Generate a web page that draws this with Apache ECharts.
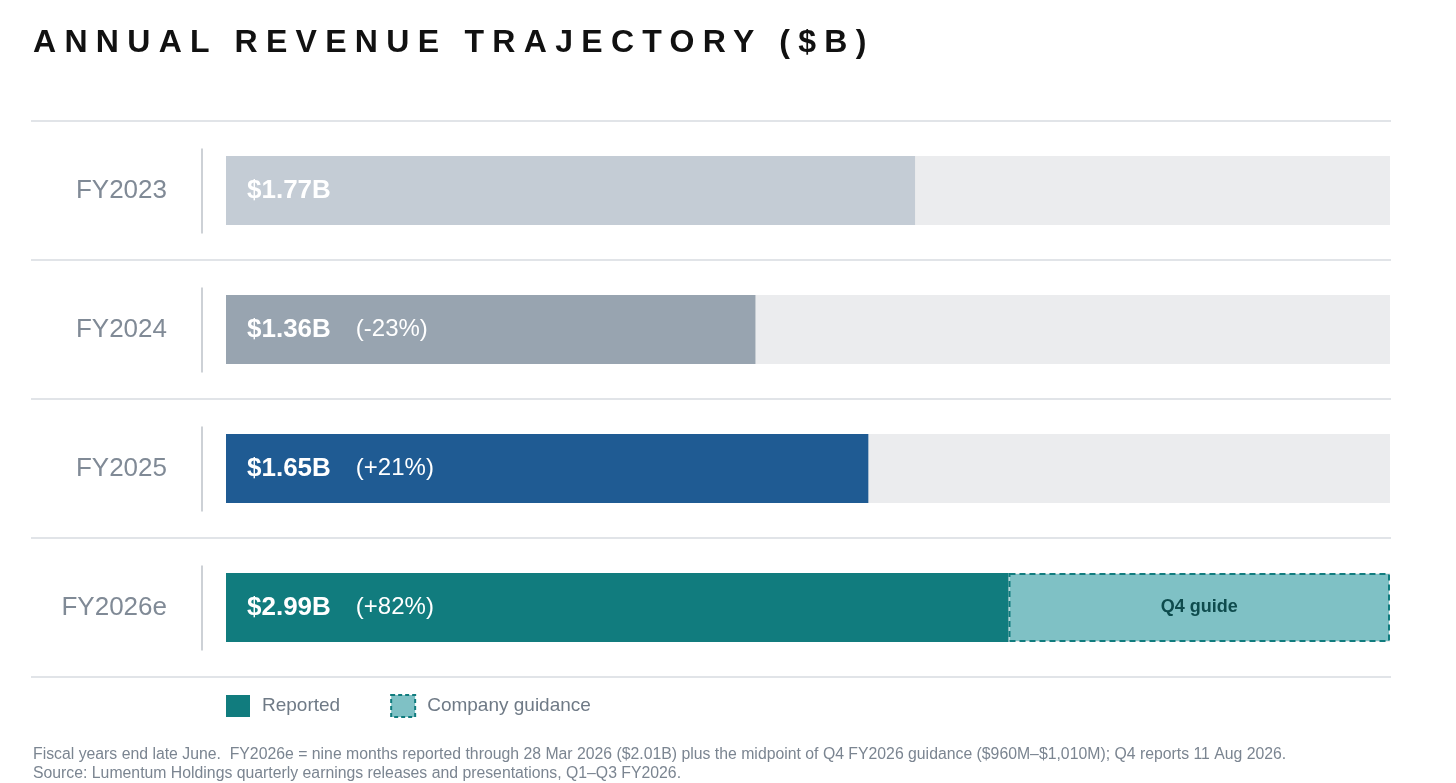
<!DOCTYPE html>
<html>
<head>
<meta charset="utf-8">
<script src="https://cdn.jsdelivr.net/npm/echarts@6/dist/echarts.min.js"></script>
<style>
  html, body { margin: 0; padding: 0; background: #fff; }
  #wrap { position: relative; width: 1456px; height: 783px; }
  #main { position: absolute; left: 0; top: 0; width: 1456px; height: 783px; }
  h1 {
    position: absolute; left: 33px; top: 25px; margin: 0; z-index: 2;
    font: bold 32px 'Liberation Sans', Arial, sans-serif; line-height: 32px;
    letter-spacing: 8.3px; color: #111; white-space: nowrap;
  }
</style>
</head>
<body>
<div id="wrap">
  <h1>ANNUAL REVENUE TRAJECTORY ($B)</h1>
  <div id="main"></div>
</div>
<script>
  // values in $B
  var categories = ['FY2023', 'FY2024', 'FY2025', 'FY2026e'];
  var reported = [1.77, 1.36, 1.65, 2.01];
  var guidance = [null, null, null, 0.98];
  var totals = [1.77, 1.36, 1.65, 2.99];
  var growth = ['', '-23%', '+21%', '+82%'];
  var barColors = ['#c4ccd5', '#98a4b0', '#1f5b93', '#117c7e'];
  var xMax = 2.99;
  var notes = [
    'Fiscal years end late June.  FY2026e = nine months reported through 28 Mar 2026 ($2.01B) plus the midpoint of Q4 FY2026 guidance ($960M\u2013$1,010M); Q4 reports 11 Aug 2026.',
    'Source: Lumentum Holdings quarterly earnings releases and presentations, Q1\u2013Q3 FY2026.'
  ];

  var font = "'Liberation Sans', Arial, sans-serif";
  var chart = echarts.init(document.getElementById('main'));

  var track = categories.map(function () { return xMax; });

  chart.setOption({
    animation: false,
    textStyle: { fontFamily: font },
    grid: [
      { left: 226, right: 66, top: 121, bottom: 106 },
      { left: 31, right: 65, top: 121, bottom: 106 }
    ],
    xAxis: [
      { type: 'value', min: 0, max: xMax, show: false, gridIndex: 0 },
      { type: 'value', min: 0, max: 1, show: false, gridIndex: 1 }
    ],
    yAxis: [
      {
        type: 'category', data: categories, inverse: true, gridIndex: 0,
        axisLine: { show: false }, axisTick: { show: false }, splitLine: { show: false },
        axisLabel: { margin: 59, fontSize: 26, color: '#808a96', fontFamily: font }
      },
      {
        type: 'category', data: categories, inverse: true, gridIndex: 1,
        axisLine: { show: false }, axisTick: { show: false }, axisLabel: { show: false },
        splitLine: { show: true, lineStyle: { color: '#e1e4e8', width: 2 } }
      }
    ],
    legend: {
      left: 226, top: 694, padding: 0, itemWidth: 24, itemHeight: 22, itemGap: 50,
      textStyle: { fontSize: 19, color: '#6f7a86', fontFamily: font, padding: [0, 0, 0, 7] },
      data: [
        { name: 'Reported', icon: 'rect', itemStyle: { color: '#117c7e', borderWidth: 0 } },
        { name: 'Company guidance', icon: 'rect',
          itemStyle: { color: '#7fc1c5', borderColor: '#117c7e', borderWidth: 2, borderType: [4, 3] } }
      ]
    },
    series: [
      {
        name: 'track', type: 'bar', data: track, barWidth: 69, barGap: '-100%',
        silent: true, itemStyle: { color: '#ebecee' }, z: 1
      },
      {
        name: 'Reported', type: 'bar', stack: 'rev', barWidth: 69, barGap: '-100%', z: 2,
        itemStyle: { color: '#117c7e' },
        data: reported.map(function (v, i) {
          return { value: v, itemStyle: { color: barColors[i] } };
        }),
        label: {
          show: true, position: 'insideLeft', distance: 21,
          formatter: function (p) {
            var i = p.dataIndex;
            var s = '{v|$' + totals[i].toFixed(2) + 'B}';
            if (growth[i]) s += '{g|(' + growth[i] + ')}';
            return s;
          },
          rich: {
            v: { fontSize: 26, fontWeight: 'bold', color: '#fff', fontFamily: font },
            g: { fontSize: 24, color: '#fff', fontFamily: font, padding: [0, 0, 0, 25] }
          }
        }
      },
      {
        name: 'Company guidance', type: 'bar', stack: 'rev', barWidth: 69, barGap: '-100%', z: 3,
        data: guidance,
        itemStyle: { color: '#7fc1c5', borderColor: '#117c7e', borderWidth: 2, borderType: [6, 4] },
        label: {
          show: true, position: 'inside', formatter: 'Q4 guide',
          fontSize: 18, fontWeight: 'bold', color: '#0e4b4d', fontFamily: font
        }
      },
      {
        name: 'divider', type: 'custom', silent: true, z: 4,
        data: categories.map(function (c, i) { return [0, i]; }),
        renderItem: function (params, api) {
          var p = api.coord([0, api.value(1)]);
          return {
            type: 'line',
            shape: { x1: p[0] - 24, y1: p[1] - 42, x2: p[0] - 24, y2: p[1] + 43 },
            style: { stroke: '#cdd1d6', lineWidth: 2 }
          };
        }
      }
    ],
    graphic: notes.map(function (t, i) {
      return {
        type: 'text', left: 33, top: 747 + i * 19, silent: true,
        style: { text: t, fontSize: 15.8, fill: '#7b8591', fontFamily: font }
      };
    })
  });
</script>
</body>
</html>
